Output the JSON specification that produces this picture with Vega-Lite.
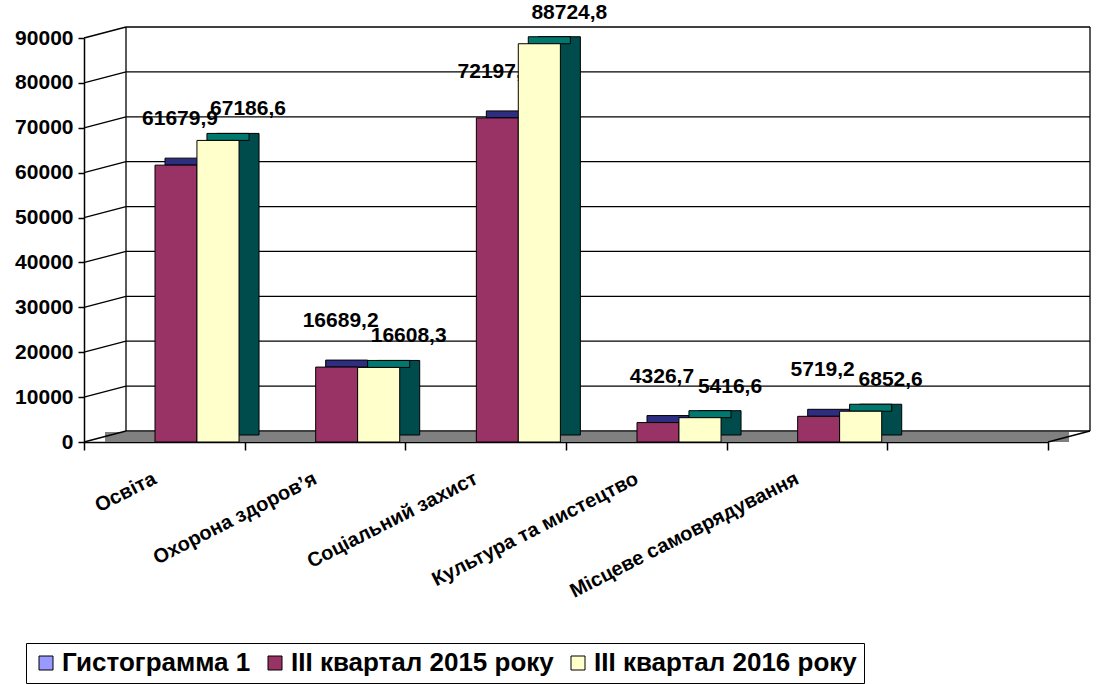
{
  "$schema": "https://vega.github.io/schema/vega-lite/v6.json",
  "autosize": {"type": "none"},
  "padding": {"left": 84, "top": 38, "right": 48, "bottom": 242},
  "width": 964,
  "height": 404,
  "background": "white",
  "config": {
    "view": {"stroke": null},
    "font": "Liberation Sans",
    "locale": {"number": {"decimal": ",", "thousands": "", "grouping": [3], "currency": ["", ""]}},
    "axisX": {"tickBand": "extent", "labelAngle": -27, "labelAlign": "right", "labelBaseline": "middle", "labelPadding": 27, "labelOffset": -10, "labelFont": "Liberation Sans", "labelFontWeight": "bold", "labelFontSize": 20, "labelColor": "black", "labelLimit": 400, "domainColor": "black", "domainWidth": 1.5, "tickColor": "black", "tickSize": 8, "tickWidth": 1.5, "grid": false, "zindex": 1},
    "axisY": {"format": "d", "labelFont": "Liberation Sans", "labelFontWeight": "bold", "labelFontSize": 21, "labelColor": "black", "labelPadding": 5, "domainColor": "black", "domainWidth": 1.5, "tickColor": "black", "tickSize": 6, "tickWidth": 1.5, "grid": false, "zindex": 1}
  },
  "datasets": {
    "bars": [
      {"category": "Освіта", "series": "III квартал 2015 року", "value": 61679.9},
      {"category": "Освіта", "series": "III квартал 2016 року", "value": 67186.6},
      {"category": "Охорона здоров’я", "series": "III квартал 2015 року", "value": 16689.2},
      {"category": "Охорона здоров’я", "series": "III квартал 2016 року", "value": 16608.3},
      {"category": "Соціальний захист", "series": "III квартал 2015 року", "value": 72197.47},
      {"category": "Соціальний захист", "series": "III квартал 2016 року", "value": 88724.8},
      {"category": "Культура та мистецтво", "series": "III квартал 2015 року", "value": 4326.7},
      {"category": "Культура та мистецтво", "series": "III квартал 2016 року", "value": 5416.6},
      {"category": "Місцеве самоврядування", "series": "III квартал 2015 року", "value": 5719.2},
      {"category": "Місцеве самоврядування", "series": "III квартал 2016 року", "value": 6852.6}
    ],
    "ticks": [
      {"v": 0}, {"v": 10000}, {"v": 20000}, {"v": 30000}, {"v": 40000},
      {"v": 50000}, {"v": 60000}, {"v": 70000}, {"v": 80000}, {"v": 90000}
    ],
    "one": [{}]
  },
  "layer": [
    {
      "data": {"name": "one"},
      "mark": {"type": "rect", "fill": "#808080", "xOffset": 21, "x2Offset": 21, "y2Offset": -10},
      "encoding": {
        "x": {"datum": "Освіта", "type": "nominal", "bandPosition": 0, "scale": {"type": "band", "domain": ["Освіта", "Охорона здоров’я", "Соціальний захист", "Культура та мистецтво", "Місцеве самоврядування", " "], "paddingInner": 0, "paddingOuter": 0}, "axis": {"title": null}},
        "x2": {"datum": " ", "bandPosition": 1},
        "y": {"datum": 0, "type": "quantitative", "scale": {"domain": [0, 90000], "nice": false}, "axis": {"title": null, "values": [0, 10000, 20000, 30000, 40000, 50000, 60000, 70000, 80000, 90000]}},
        "y2": {"datum": 0}
      }
    },
    {
      "data": {"name": "ticks"},
      "mark": {"type": "rule", "color": "black", "strokeWidth": 1.3, "xOffset": 42, "x2Offset": 42, "yOffset": -11},
      "encoding": {
        "x": {"datum": "Освіта", "type": "nominal", "bandPosition": 0, "axis": {"title": null}},
        "x2": {"datum": " ", "bandPosition": 1},
        "y": {"field": "v", "type": "quantitative", "axis": {"title": null}}
      }
    },
    {
      "data": {"name": "ticks"},
      "mark": {"type": "rule", "color": "black", "strokeWidth": 1.3, "x2Offset": 42, "y2Offset": -11},
      "encoding": {
        "x": {"datum": "Освіта", "type": "nominal", "bandPosition": 0, "axis": {"title": null}},
        "x2": {"datum": "Освіта", "bandPosition": 0},
        "y": {"field": "v", "type": "quantitative", "axis": {"title": null}},
        "y2": {"field": "v"}
      }
    },
    {
      "data": {"name": "one"},
      "mark": {"type": "rule", "color": "black", "strokeWidth": 1.3, "xOffset": 42, "yOffset": -11, "y2Offset": -11},
      "encoding": {
        "x": {"datum": "Освіта", "type": "nominal", "bandPosition": 0, "axis": {"title": null}},
        "y": {"datum": 0, "type": "quantitative", "axis": {"title": null}},
        "y2": {"datum": 90000}
      }
    },
    {
      "data": {"name": "one"},
      "mark": {"type": "rule", "color": "black", "strokeWidth": 1.3, "xOffset": 42, "yOffset": -11, "y2Offset": -11},
      "encoding": {
        "x": {"datum": " ", "type": "nominal", "bandPosition": 1, "axis": {"title": null}},
        "y": {"datum": 0, "type": "quantitative", "axis": {"title": null}},
        "y2": {"datum": 90000}
      }
    },
    {
      "data": {"name": "one"},
      "mark": {"type": "rule", "color": "black", "strokeWidth": 1.3, "x2Offset": 42, "y2Offset": -11},
      "encoding": {
        "x": {"datum": " ", "type": "nominal", "bandPosition": 1, "axis": {"title": null}},
        "x2": {"datum": " ", "bandPosition": 1},
        "y": {"datum": 0, "type": "quantitative", "axis": {"title": null}},
        "y2": {"datum": 0}
      }
    },
    {
      "data": {"name": "bars"},
      "transform": [{"filter": "datum.series === 'III квартал 2015 року'"}],
      "mark": {"type": "rect", "fill": "#2E2E80", "stroke": "black", "strokeWidth": 1, "xOffset": 10, "x2Offset": 10, "yOffset": -7},
      "encoding": {
        "x": {"field": "category", "type": "nominal", "bandPosition": 0.442, "axis": {"title": null}},
        "x2": {"field": "category", "bandPosition": 0.703},
        "y": {"field": "value", "type": "quantitative", "axis": {"title": null}},
        "y2": {"field": "value"}
      }
    },
    {
      "data": {"name": "bars"},
      "transform": [{"filter": "datum.series === 'III квартал 2015 року'"}],
      "mark": {"type": "rect", "stroke": "black", "strokeWidth": 1},
      "encoding": {
        "x": {"field": "category", "type": "nominal", "bandPosition": 0.442, "axis": {"title": null}},
        "x2": {"field": "category", "bandPosition": 0.703},
        "y": {"field": "value", "type": "quantitative", "axis": {"title": null}},
        "y2": {"datum": 0},
        "color": {"field": "series", "type": "nominal",
          "scale": {"domain": ["Гистограмма 1", "III квартал 2015 року", "III квартал 2016 року"], "range": ["#9999FF", "#993366", "#FFFFCC"]},
          "legend": {"title": null, "orient": "none", "legendX": -58, "legendY": 605, "direction": "horizontal", "padding": 7, "strokeColor": "black", "fillColor": "white", "labelFont": "Liberation Sans", "labelFontWeight": "bold", "labelFontSize": 26, "labelColor": "black", "labelLimit": 500, "labelOffset": 3, "columnPadding": 11, "symbolType": "square", "symbolSize": 196, "symbolStrokeColor": "black", "symbolStrokeWidth": 1}}
      }
    },
    {
      "data": {"name": "bars"},
      "transform": [{"filter": "datum.series === 'III квартал 2015 року'"}],
      "mark": {"type": "text", "font": "Liberation Sans", "fontWeight": "bold", "fontSize": 21, "color": "black", "baseline": "middle", "align": "center", "dx": 4, "dy": -46},
      "encoding": {
        "x": {"field": "category", "type": "nominal", "bandPosition": 0.5725, "axis": {"title": null}},
        "y": {"field": "value", "type": "quantitative", "axis": {"title": null}},
        "text": {"field": "value", "type": "quantitative", "format": "~f"}
      }
    },
    {
      "data": {"name": "bars"},
      "transform": [{"filter": "datum.series === 'III квартал 2016 року'"}],
      "mark": {"type": "rect", "fill": "#004C4C", "stroke": "black", "strokeWidth": 1, "xOffset": 20, "x2Offset": 20, "yOffset": -7, "y2Offset": -7},
      "encoding": {
        "x": {"field": "category", "type": "nominal", "bandPosition": 0.703, "axis": {"title": null}},
        "x2": {"field": "category", "bandPosition": 0.965},
        "y": {"field": "value", "type": "quantitative", "axis": {"title": null}},
        "y2": {"datum": 0}
      }
    },
    {
      "data": {"name": "bars"},
      "transform": [{"filter": "datum.series === 'III квартал 2016 року'"}],
      "mark": {"type": "rect", "fill": "#00786E", "stroke": "black", "strokeWidth": 1, "xOffset": 10, "x2Offset": 10, "yOffset": -7},
      "encoding": {
        "x": {"field": "category", "type": "nominal", "bandPosition": 0.703, "axis": {"title": null}},
        "x2": {"field": "category", "bandPosition": 0.965},
        "y": {"field": "value", "type": "quantitative", "axis": {"title": null}},
        "y2": {"field": "value"}
      }
    },
    {
      "data": {"name": "bars"},
      "transform": [{"filter": "datum.series === 'III квартал 2016 року'"}],
      "mark": {"type": "rect", "stroke": "black", "strokeWidth": 1},
      "encoding": {
        "x": {"field": "category", "type": "nominal", "bandPosition": 0.703, "axis": {"title": null}},
        "x2": {"field": "category", "bandPosition": 0.965},
        "y": {"field": "value", "type": "quantitative", "axis": {"title": null}},
        "y2": {"datum": 0},
        "color": {"field": "series", "type": "nominal",
          "legend": {"title": null, "orient": "none", "legendX": -58, "legendY": 605, "direction": "horizontal", "padding": 7, "strokeColor": "black", "fillColor": "white", "labelFont": "Liberation Sans", "labelFontWeight": "bold", "labelFontSize": 26, "labelColor": "black", "labelLimit": 500, "labelOffset": 3, "columnPadding": 11, "symbolType": "square", "symbolSize": 196, "symbolStrokeColor": "black", "symbolStrokeWidth": 1}}
      }
    },
    {
      "data": {"name": "bars"},
      "transform": [{"filter": "datum.series === 'III квартал 2016 року'"}],
      "mark": {"type": "text", "font": "Liberation Sans", "fontWeight": "bold", "fontSize": 21, "color": "black", "baseline": "middle", "align": "center", "dx": 30, "dy": -31},
      "encoding": {
        "x": {"field": "category", "type": "nominal", "bandPosition": 0.834, "axis": {"title": null}},
        "y": {"field": "value", "type": "quantitative", "axis": {"title": null}},
        "text": {"field": "value", "type": "quantitative", "format": "~f"}
      }
    }
  ]
}
